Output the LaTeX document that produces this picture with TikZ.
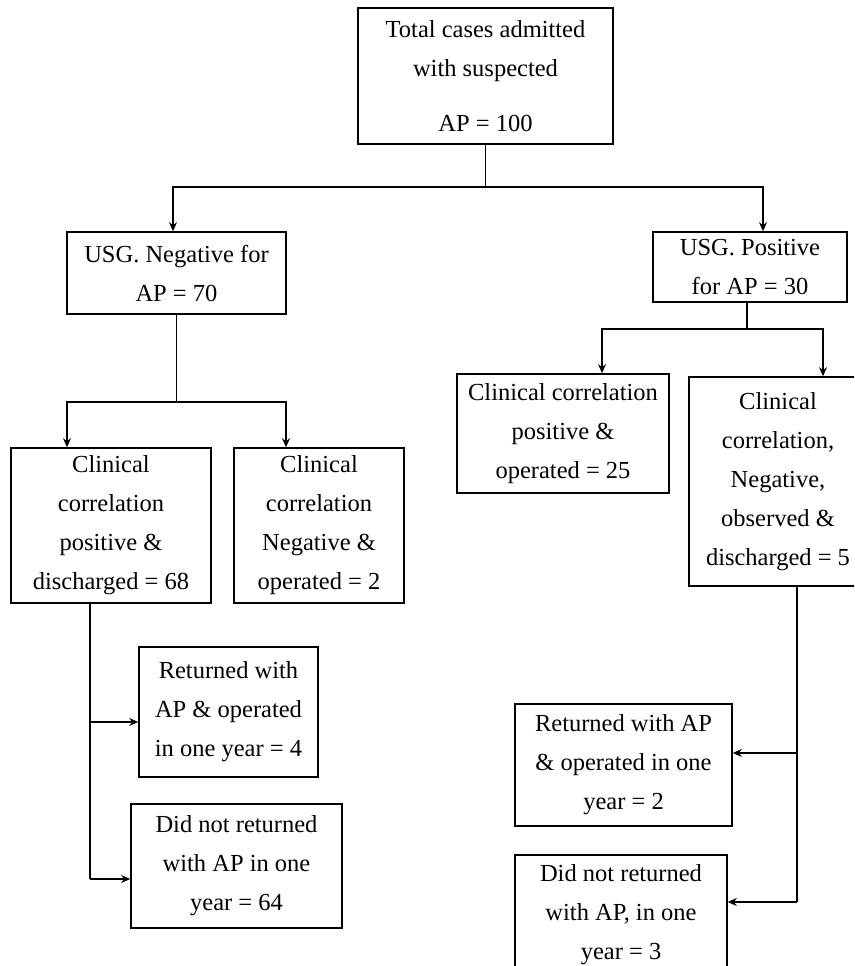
\documentclass[tikz,border=0pt]{standalone}
\usepackage{fontspec}
\setmainfont{Liberation Serif}
\usetikzlibrary{arrows.meta,calc}
\begin{document}
\begin{tikzpicture}[x=1pt,y=-1pt,
  box/.style={draw, line width=1.6pt, align=center, inner sep=0pt,
    font=\fontsize{24.5}{39}\selectfont},
  line/.style={line width=1.6pt},
  arr/.style={line width=1.6pt, -{Stealth[length=9pt,width=8pt,inset=3pt]}}]
\useasboundingbox (0,0) rectangle (854,966);
\fill[white] (0,0) rectangle (854,966);
\clip (0,0) rectangle (854,966);

\node[box, minimum width=255pt, minimum height=136pt] (top) at (485.5,76)
  {Total cases admitted\\with suspected\\[16pt]AP = 100};
\node[box, minimum width=219pt, minimum height=82pt] (neg) at (176.5,273)
  {USG. Negative for\\AP = 70};
\node[box, minimum width=194pt, minimum height=70pt] (pos) at (750,267)
  {USG. Positive\\for AP = 30};
\node[box, minimum width=200pt, minimum height=155pt] (c68) at (111,525.5)
  {Clinical\\correlation\\positive \&\\discharged = 68};
\node[box, minimum width=170pt, minimum height=155pt] (cneg) at (319,525.5)
  {Clinical\\correlation\\Negative \&\\operated = 2};
\node[box, minimum width=212pt, minimum height=119pt] (c25) at (563,433.5)
  {Clinical correlation\\positive \&\\operated = 25};
\node[box, minimum width=178pt, minimum height=209pt] (c5) at (778,481.5)
  {Clinical\\correlation,\\Negative,\\observed \&\\discharged = 5};
\node[box, minimum width=179pt, minimum height=130pt] (b4) at (228.5,712)
  {Returned with\\AP \& operated\\in one year = 4};
\node[box, minimum width=211pt, minimum height=124pt] (b64) at (236.5,866)
  {Did not returned\\with AP in one\\year = 64};
\node[box, minimum width=217pt, minimum height=122pt] (b2) at (623.5,765)
  {Returned with AP\\\& operated in one\\year = 2};
\node[box, minimum width=212pt, minimum height=120pt] (b3) at (621,915)
  {Did not returned\\with AP, in one\\year = 3};

% junction coordinates
\coordinate (j1) at (485.5,187);
\coordinate (xa) at (173,0);
\coordinate (xb) at (763,0);
\coordinate (j2) at (176.5,402);
\coordinate (xc) at (67,0);
\coordinate (xd) at (286,0);
\coordinate (j3) at (747,329);
\coordinate (xe) at (602,0);
\coordinate (xf) at (823,0);
\coordinate (xg) at (90,0);
\coordinate (t1) at (90,722);
\coordinate (t2) at (90,879);
\coordinate (xh) at (797,0);
\coordinate (t3) at (797,753);
\coordinate (t4) at (797,902);

% top level
\draw[line] (top.south) -- (j1);
\draw[arr] (j1) -| (xa |- neg.north);
\draw[arr] (j1) -| (xb |- pos.north);

% negative branch
\draw[line] (neg.south) -- (j2);
\draw[arr] (j2) -| (xc |- c68.north);
\draw[arr] (j2) -| (xd |- cneg.north);

% positive branch
\draw[line] (j3 |- pos.south) -- (j3);
\draw[arr] (j3) -| (xe |- c25.north);
\draw[arr] (j3) -| (xf |- c5.north);

% follow-up left
\draw[line] (xg |- c68.south) -- (t2);
\draw[arr] (t1) -- (t1 -| b4.west);
\draw[arr] (t2) -- (t2 -| b64.west);

% follow-up right
\draw[line] (xh |- c5.south) -- (t4);
\draw[arr] (t3) -- (t3 -| b2.east);
\draw[arr] (t4) -- (t4 -| b3.east);
\end{tikzpicture}
\end{document}
